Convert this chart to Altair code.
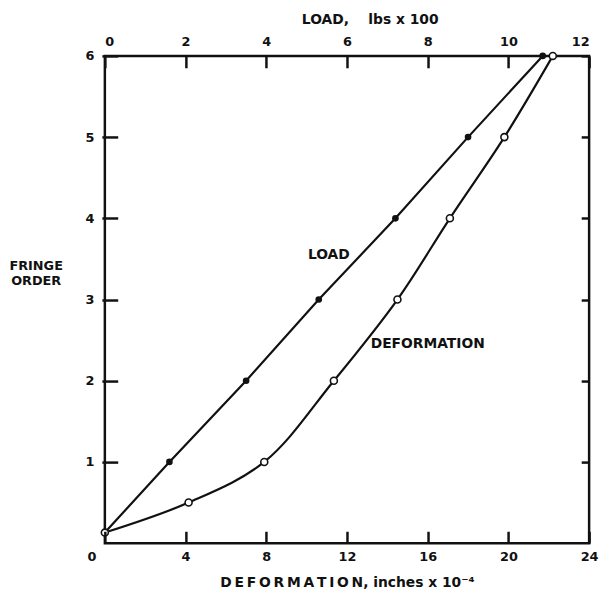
import altair as alt
import pandas as pd

# ---- data ----
load_vals = [0.0, 1.6, 3.5, 5.3, 7.2, 9.0, 10.85]          # lbs x 100
load_fringe = [0.13, 1, 2, 3, 4, 5, 6]
def_vals = [0.0, 4.15, 7.9, 11.35, 14.5, 17.1, 19.8, 22.2]  # inches x 10^-4
def_fringe = [0.13, 0.5, 1, 2, 3, 4, 5, 6]

load_ticks = [0, 2, 4, 6, 8, 10, 12]
def_ticks = [0, 4, 8, 12, 16, 20, 24]
fringe_ticks = [1, 2, 3, 4, 5, 6]

ann_text = ["LOAD", "DEFORMATION"]
ann_def = [11.1, 16.0]
ann_fringe = [3.55, 2.45]

W, H = 490, 493
FONT = "DejaVu Sans"
INK = "#111111"

load_df = pd.DataFrame({"load": load_vals, "fringe": load_fringe})
def_df = pd.DataFrame({"deformation": def_vals, "fringe": def_fringe})
ann_df = pd.DataFrame({"deformation": ann_def, "fringe": ann_fringe, "text": ann_text})

y_scale = alt.Scale(domain=[0, 6], nice=False)
load_scale = alt.Scale(domain=[0, 12], nice=False)
def_scale = alt.Scale(domain=[0, 24], nice=False)

tick_style = dict(ticks=True, tickColor=INK, tickWidth=2.5, tickOpacity=1,
                  domain=False, grid=False, zindex=2)
label_style = dict(labelFont=FONT, labelFontWeight="bold", labelFontSize=13, labelColor=INK)

# axes are pulled inside the plot by a negative offset so the ticks point inward
y_left = alt.Y(
    "fringe:Q", scale=y_scale,
    axis=alt.Axis(
        orient="left", values=fringe_ticks, format="d", offset=-13, tickSize=16,
        labelPadding=8, **tick_style, **label_style,
        title=["FRINGE", "ORDER"], titleAngle=0, titleAlign="center",
        titleX=-83, titleY=219, titleFont=FONT, titleFontWeight="bold",
        titleFontSize=13, titleColor=INK, titleLineHeight=15,
    ),
)
y_right = alt.Y(
    "fringe:Q", scale=y_scale,
    axis=alt.Axis(
        orient="right", values=fringe_ticks, offset=-8, tickSize=8,
        labels=False, title=None, **tick_style,
    ),
)
y_none = alt.Y("fringe:Q", scale=y_scale, axis=None)

x_load = alt.X(
    "load:Q", scale=load_scale,
    axis=alt.Axis(
        orient="top", values=load_ticks, format="d", offset=-12, tickSize=12,
        labelPadding=8, **tick_style, **label_style,
        title="LOAD,\u00a0\u00a0\u00a0\u00a0lbs x 100", titleFont=FONT, titleFontWeight="bold",
        titleFontSize=14, titleColor=INK, titlePadding=9, titleX=268, titleAlign="center",
    ),
)
x_load_none = alt.X("load:Q", scale=load_scale, axis=None)

dspace = "\u2009".join("DEFORMATION")
x_def = alt.X(
    "deformation:Q", scale=def_scale,
    axis=alt.Axis(
        orient="bottom", values=def_ticks, format="d", offset=-12, tickSize=12,
        labelPadding=8, **tick_style, **label_style,
        labelAlign=alt.expr("datum.value === 0 ? 'right' : 'center'"),
        labelOffset=alt.expr("datum.value === 0 ? -9 : 0"),
        title=dspace + ", inches x 10\u207b\u2074", titleFont=FONT, titleFontWeight="bold",
        titleFontSize=14, titleColor=INK, titlePadding=12,
    ),
)
x_def_none = alt.X("deformation:Q", scale=def_scale, axis=None)

load_line = alt.Chart(load_df).mark_line(color=INK, strokeWidth=2.2).encode(
    x=x_load, y=y_left
)
load_pts = alt.Chart(load_df.iloc[1:]).mark_point(
    filled=True, color=INK, size=45, opacity=1
).encode(x=x_load_none, y=y_none)
def_line = alt.Chart(def_df).mark_line(
    color=INK, strokeWidth=2.2, interpolate="catmull-rom"
).encode(x=x_def, y=y_right)
labels = alt.Chart(ann_df).mark_text(
    font=FONT, fontWeight="bold", fontSize=14, color=INK
).encode(x=x_def_none, y=y_none, text="text:N")
def_pts = alt.Chart(def_df).mark_point(
    filled=True, fill="white", stroke=INK, strokeWidth=1.6, size=50, opacity=1
).encode(x=x_def_none, y=y_none)

chart = (
    alt.layer(load_line, load_pts, def_line, labels, def_pts)
    .resolve_scale(x="independent", y="independent")
    .properties(
        width=W, height=H,
        autosize=alt.AutoSizeParams(type="none"),
        padding={"left": 98, "top": 45, "right": 10, "bottom": 50},
        background="white",
    )
    .configure_view(stroke=INK, strokeWidth=2.5)
)

chart.save("out.html", embed_options={"renderer": "svg", "actions": False})
